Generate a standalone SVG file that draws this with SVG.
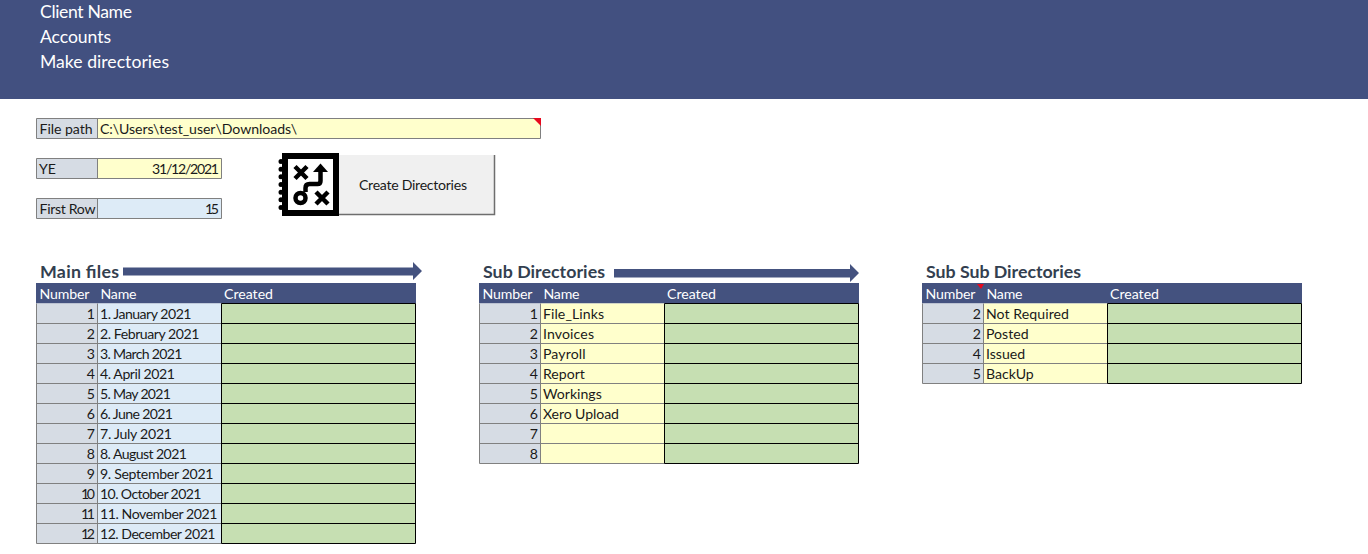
<svg xmlns="http://www.w3.org/2000/svg" width="1368" height="554" viewBox="0 0 1368 554">
<defs><style>
text{font-family:"Lato","Carlito","Open Sans",sans-serif;font-size:14.1px;fill:#1a1a1a}
.w{fill:#fff}
.b{font-size:17.6px;fill:#fff}
.t{font-size:17.8px;font-weight:700;fill:#333f50}
.r{text-anchor:end}
.num{fill:#d6dce4}
.blu{fill:#ddebf7}
.yel{fill:#ffffcc}
.grn{fill:#c6dfb2}
.hd{fill:#44527f}
.g{fill:none;stroke:#808080;stroke-width:1}
.k{fill:none;stroke:#000;stroke-width:1}
.a{fill:#44527f}
.ic{fill:none;stroke:#000;stroke-width:4.500}
</style></defs>
<rect width="1368" height="554" fill="#fff"/>
<g id="banner">
<rect width="1368" height="99" fill="#425080"/>
<text class="b" x="40" y="18" textLength="92">Client Name</text>
<text class="b" x="40" y="43" textLength="71">Accounts</text>
<text class="b" x="40" y="68" textLength="129">Make directories</text>
</g>
<g id="file-path">
<rect class="num" x="36.5" y="118.5" width="61" height="20"/>
<rect class="yel" x="97.5" y="118.5" width="443" height="20"/>
<path class="g" d="M36.5 118.5H540.5V138.5H36.5ZM97.5 118.5V138.5"/>
<path d="M533 118H541V126Z" fill="#e8091e"/>
<text x="39.500" y="134" textLength="53">File path</text>
<text x="100" y="134" textLength="197">C:\Users\test_user\Downloads\</text>
</g>
<g id="ye">
<rect class="num" x="36.5" y="158.5" width="61" height="20"/>
<rect class="yel" x="97.5" y="158.5" width="124" height="20"/>
<path class="g" d="M36.5 158.5H221.5V178.5H36.5ZM97.5 158.5V178.5"/>
<text x="39" y="174">YE</text>
<text class="r" x="219" y="174" textLength="67">31/12/2021</text>
</g>
<g id="first-row">
<rect class="num" x="36.5" y="198.5" width="61" height="20"/>
<rect class="blu" x="97.5" y="198.5" width="124" height="20"/>
<path class="g" d="M36.5 198.5H221.5V218.5H36.5ZM97.5 198.5V218.5"/>
<text x="39.500" y="214" textLength="56">First Row</text>
<text class="r" x="219" y="214" textLength="14">15</text>
</g>
<g id="button">
<rect x="339" y="155" width="155" height="59" fill="#f0f0f0"/>
<path d="M339 214.500H494.500V155" fill="none" stroke="#6e6e6e" stroke-width="1.500"/>
<text x="359" y="190" textLength="108">Create Directories</text>
<rect x="285" y="156" width="51" height="57" fill="#fff" stroke="#000" stroke-width="6"/>
<path d="M281 161.500v46" fill="none" stroke="#000" stroke-width="5" stroke-linecap="round" stroke-dasharray="0 7.660"/>
<path class="ic" d="M295 166.500l12 12M307 166.500l-12 12M316 192l12 12M328 192l-12 12M320.500 170v11q0 3-3 3h-8q-4 0-4 4v4"/>
<path d="M320.500 163.500l-7.500 8.500h15Z" fill="#000"/>
<circle class="ic" cx="300.500" cy="198" r="5"/>
</g>
<g id="connectors">
<path class="a" d="M123 267.500H413V262L422 271 413 280V275.500H123Z"/>
<path class="a" d="M614 269H850V264L859 273 850 282V277.500H614Z"/>
</g>
<g id="main-files">
<text class="t" x="40" y="278" textLength="79">Main files</text>
<rect class="hd" x="36" y="283" width="380" height="20.500"/>
<rect class="num" x="36.500" y="303.500" width="61" height="240"/>
<rect class="blu" x="97.500" y="303.500" width="124" height="240"/>
<rect class="grn" x="221.500" y="303.500" width="194" height="240"/>
<path class="g" d="M36.500 303.500V543.500M97.500 303.500V543.500M36.500 323.500H221.500M36.500 343.500H221.500M36.500 363.500H221.500M36.500 383.500H221.500M36.500 403.500H221.500M36.500 423.500H221.500M36.500 443.500H221.500M36.500 463.500H221.500M36.500 483.500H221.500M36.500 503.500H221.500M36.500 523.500H221.500M36.500 543.500H221.500"/>
<path class="k" d="M221.500 303.500H415.500V543.500H221.500ZM221.500 323.500H415.500M221.500 343.500H415.500M221.500 363.500H415.500M221.500 383.500H415.500M221.500 403.500H415.500M221.500 423.500H415.500M221.500 443.500H415.500M221.500 463.500H415.500M221.500 483.500H415.500M221.500 503.500H415.500M221.500 523.500H415.500"/>
<text class="w" x="39.500" y="299" textLength="50">Number</text><text class="w" x="100.500" y="299" textLength="36">Name</text><text class="w" x="224" y="299" textLength="49">Created</text>
<text class="r" x="95" y="319">1</text><text x="100" y="319" textLength="91.500">1. January 2021</text>
<text class="r" x="95" y="339">2</text><text x="100" y="339" textLength="99.500">2. February 2021</text>
<text class="r" x="95" y="359">3</text><text x="100" y="359" textLength="82.500">3. March 2021</text>
<text class="r" x="95" y="379">4</text><text x="100" y="379" textLength="75">4. April 2021</text>
<text class="r" x="95" y="399">5</text><text x="100" y="399" textLength="71">5. May 2021</text>
<text class="r" x="95" y="419">6</text><text x="100" y="419" textLength="73">6. June 2021</text>
<text class="r" x="95" y="439">7</text><text x="100" y="439" textLength="72">7. July 2021</text>
<text class="r" x="95" y="459">8</text><text x="100" y="459" textLength="87">8. August 2021</text>
<text class="r" x="95" y="479">9</text><text x="100" y="479" textLength="113.500">9. September 2021</text>
<text class="r" x="95" y="499" textLength="14">10</text><text x="100" y="499" textLength="101.500">10. October 2021</text>
<text class="r" x="95" y="519" textLength="14">11</text><text x="100" y="519" textLength="117.500">11. November 2021</text>
<text class="r" x="95" y="539" textLength="14">12</text><text x="100" y="539" textLength="115.500">12. December 2021</text>
</g>
<g id="sub-directories">
<text class="t" x="483" y="278" textLength="122">Sub Directories</text>
<rect class="hd" x="479" y="283" width="380" height="20.500"/>
<rect class="num" x="479.500" y="303.500" width="61" height="160"/>
<rect class="yel" x="540.500" y="303.500" width="124" height="160"/>
<rect class="grn" x="664.500" y="303.500" width="194" height="160"/>
<path class="g" d="M479.500 303.500V463.500M540.500 303.500V463.500M479.500 323.500H664.500M479.500 343.500H664.500M479.500 363.500H664.500M479.500 383.500H664.500M479.500 403.500H664.500M479.500 423.500H664.500M479.500 443.500H664.500M479.500 463.500H664.500"/>
<path class="k" d="M664.500 303.500H858.500V463.500H664.500ZM664.500 323.500H858.500M664.500 343.500H858.500M664.500 363.500H858.500M664.500 383.500H858.500M664.500 403.500H858.500M664.500 423.500H858.500M664.500 443.500H858.500"/>
<text class="w" x="482.500" y="299" textLength="50">Number</text><text class="w" x="543.500" y="299" textLength="36">Name</text><text class="w" x="667" y="299" textLength="49">Created</text>
<text class="r" x="538" y="319">1</text><text x="543" y="319" textLength="61">File_Links</text>
<text class="r" x="538" y="339">2</text><text x="543" y="339" textLength="51">Invoices</text>
<text class="r" x="538" y="359">3</text><text x="543" y="359" textLength="42.500">Payroll</text>
<text class="r" x="538" y="379">4</text><text x="543" y="379">Report</text>
<text class="r" x="538" y="399">5</text><text x="543" y="399">Workings</text>
<text class="r" x="538" y="419">6</text><text x="543" y="419" textLength="76">Xero Upload</text>
<text class="r" x="538" y="439">7</text>
<text class="r" x="538" y="459">8</text>
</g>
<g id="sub-sub-directories">
<text class="t" x="926" y="278" textLength="155">Sub Sub Directories</text>
<rect class="hd" x="922" y="283" width="380" height="20.500"/>
<path d="M977 284H984L981 289Z" fill="#e8091e"/>
<rect class="num" x="922.500" y="303.500" width="61" height="80"/>
<rect class="yel" x="983.500" y="303.500" width="124" height="80"/>
<rect class="grn" x="1107.500" y="303.500" width="194" height="80"/>
<path class="g" d="M922.500 303.500V383.500M983.500 303.500V383.500M922.500 323.500H1107.500M922.500 343.500H1107.500M922.500 363.500H1107.500M922.500 383.500H1107.500"/>
<path class="k" d="M1107.500 303.500H1301.500V383.500H1107.500ZM1107.500 323.500H1301.500M1107.500 343.500H1301.500M1107.500 363.500H1301.500"/>
<text class="w" x="925.500" y="299" textLength="50">Number</text><text class="w" x="986.500" y="299" textLength="36">Name</text><text class="w" x="1110" y="299" textLength="49">Created</text>
<text class="r" x="981" y="319">2</text><text x="986" y="319" textLength="83">Not Required</text>
<text class="r" x="981" y="339">2</text><text x="986" y="339">Posted</text>
<text class="r" x="981" y="359">4</text><text x="986" y="359">Issued</text>
<text class="r" x="981" y="379">5</text><text x="986" y="379">BackUp</text>
</g>
</svg>
